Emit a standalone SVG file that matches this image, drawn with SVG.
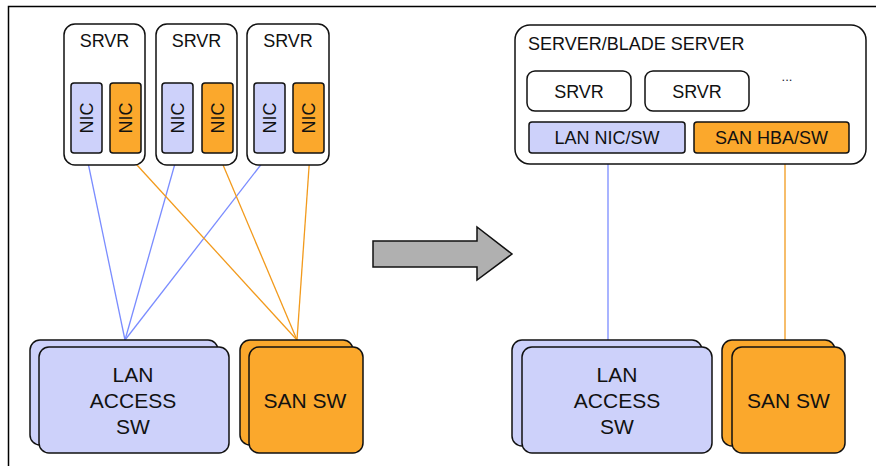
<svg xmlns="http://www.w3.org/2000/svg" width="876" height="466" viewBox="0 0 876 466">
<style>
text{font-family:"Liberation Sans",Arial,sans-serif;fill:#111;text-anchor:middle}
.box{fill:#fff;stroke:#111;stroke-width:1.5}
.blue{fill:#cdd1fa;stroke:#111;stroke-width:1.5}
.orange{fill:#fba82c;stroke:#111;stroke-width:1.5}
.lb{stroke:#7a8cff;stroke-width:1.3;fill:none}
.lo{stroke:#f29a1c;stroke-width:1.3;fill:none}
.t18{font-size:18px}
.t21{font-size:21px}
</style>
<g id="frame" fill="none" stroke="#000" stroke-width="1.5">
<path d="M8.5 466V6.5H876"/>
</g>
<g id="connectors">
<line class="lb" x1="86" y1="153" x2="125" y2="340"/>
<line class="lb" x1="178" y1="153" x2="125" y2="340"/>
<line class="lb" x1="270" y1="153" x2="125" y2="340"/>
<line class="lo" x1="126" y1="153" x2="297" y2="340"/>
<line class="lo" x1="218" y1="153" x2="297" y2="340"/>
<line class="lo" x1="310" y1="153" x2="297" y2="340"/>
<line class="lb" x1="608" y1="153" x2="608" y2="340"/>
<line class="lo" x1="785" y1="153" x2="785" y2="340"/>
</g>
<g id="srvr1">
<rect class="box" x="64" y="24" width="81" height="141" rx="11"/>
<text class="t18" x="104.5" y="47">SRVR</text>
<rect class="blue" x="71" y="83" width="31" height="70" rx="3"/>
<text class="t18" transform="translate(92.5 118) rotate(-90)">NIC</text>
<rect class="orange" x="110" y="83" width="31" height="70" rx="3"/>
<text class="t18" transform="translate(132 118) rotate(-90)">NIC</text>
</g>
<g id="srvr2">
<rect class="box" x="156" y="24" width="81" height="141" rx="11"/>
<text class="t18" x="196.5" y="47">SRVR</text>
<rect class="blue" x="162" y="83" width="31" height="70" rx="3"/>
<text class="t18" transform="translate(183.5 118) rotate(-90)">NIC</text>
<rect class="orange" x="202" y="83" width="31" height="70" rx="3"/>
<text class="t18" transform="translate(224 118) rotate(-90)">NIC</text>
</g>
<g id="srvr3">
<rect class="box" x="247" y="24" width="82" height="141" rx="11"/>
<text class="t18" x="288" y="47">SRVR</text>
<rect class="blue" x="254" y="83" width="31" height="70" rx="3"/>
<text class="t18" transform="translate(275.5 118) rotate(-90)">NIC</text>
<rect class="orange" x="293" y="83" width="31" height="70" rx="3"/>
<text class="t18" transform="translate(315 118) rotate(-90)">NIC</text>
</g>
<g id="lan-left">
<rect class="blue" x="30" y="340" width="188" height="105" rx="10"/>
<rect class="blue" x="39" y="347" width="190" height="106" rx="10"/>
<text class="t21" x="133" y="382">LAN</text>
<text class="t21" x="133" y="408">ACCESS</text>
<text class="t21" x="133" y="434">SW</text>
</g>
<g id="san-left">
<rect class="orange" x="240" y="340" width="113" height="105" rx="10"/>
<rect class="orange" x="249" y="347" width="114" height="106" rx="10"/>
<text class="t21" x="305" y="408">SAN SW</text>
</g>
<g id="arrow">
<path d="M373 241H477V227L512 254L477 280V267H373Z" fill="#b0b0b0" stroke="#111" stroke-width="1.5"/>
</g>
<g id="blade-server">
<rect class="box" x="515" y="25" width="351" height="139" rx="15"/>
<text class="t18" x="528" y="50" style="text-anchor:start">SERVER/BLADE SERVER</text>
<rect class="box" x="527" y="71" width="104" height="40" rx="8"/>
<text class="t18" x="579" y="98">SRVR</text>
<rect class="box" x="645" y="71" width="104" height="40" rx="8"/>
<text class="t18" x="697" y="98">SRVR</text>
<text x="787" y="81" style="font-size:13px;fill:#223">...</text>
<rect class="blue" x="529" y="122" width="156" height="31" rx="3"/>
<text class="t18" x="607" y="144">LAN NIC/SW</text>
<rect class="orange" x="694" y="122" width="155" height="31" rx="3"/>
<text class="t18" x="771.5" y="144">SAN HBA/SW</text>
</g>
<g id="lan-right">
<rect class="blue" x="512" y="340" width="190" height="106" rx="10"/>
<rect class="blue" x="522" y="347" width="190" height="106" rx="10"/>
<text class="t21" x="617" y="382">LAN</text>
<text class="t21" x="617" y="408">ACCESS</text>
<text class="t21" x="617" y="434">SW</text>
</g>
<g id="san-right">
<rect class="orange" x="722" y="340" width="113" height="106" rx="10"/>
<rect class="orange" x="732" y="347" width="113" height="106" rx="10"/>
<text class="t21" x="788.5" y="408">SAN SW</text>
</g>
</svg>
